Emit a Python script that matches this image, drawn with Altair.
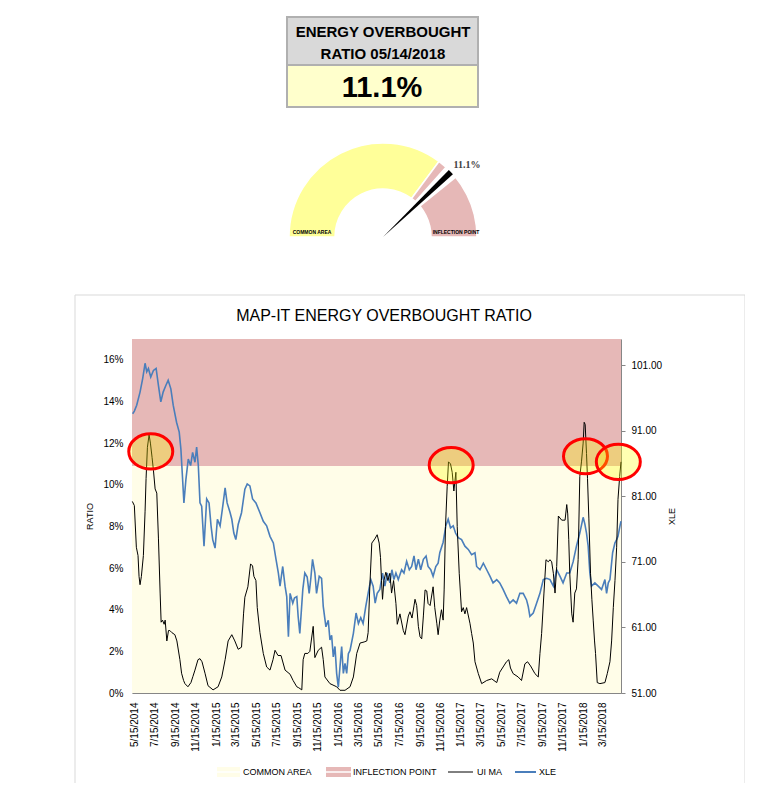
import math
import pandas as pd
import altair as alt

FONT = "Liberation Sans"

# ---------------- data ----------------
base_date = "2014-05-09"      # left edge of the date axis
end_offset_days = 1460        # right edge of the date axis

# UI MA (ratio, % ) : day offset from base_date, value in percent
ui_days = [1, 7, 13, 18, 21, 24, 28, 34, 39, 42, 46, 51, 55, 60, 64, 69, 74, 79, 84, 87,
           91, 96, 99, 104, 109, 113, 119, 128, 134, 143, 148, 154, 158, 167, 176, 182, 188, 197, 203, 209,
           218, 227, 242, 257, 268, 278, 287, 298, 307, 317, 327, 333, 337, 346, 354, 360, 364, 370, 374, 382,
           392, 402, 412, 421, 427, 436, 445, 457, 472, 481, 492, 498, 507, 511, 516, 525, 531, 541, 546, 556,
           566, 571, 576, 591, 611, 621, 636, 651, 661, 671, 681, 693, 701, 705, 710, 716, 725, 732, 738, 742,
           745, 748, 752, 758, 764, 770, 775, 781, 788, 792, 800, 810, 815, 825, 830, 836, 845, 850, 855, 860,
           865, 870, 875, 880, 884, 890, 899, 904, 910, 914, 919, 924, 929, 932, 936, 941, 945, 951, 956, 961,
           967, 971, 977, 984, 989, 994, 999, 1009, 1014, 1019, 1024, 1034, 1044, 1059, 1074, 1089, 1098, 1108, 1118, 1125,
           1130, 1138, 1153, 1163, 1173, 1181, 1190, 1203, 1213, 1218, 1223, 1230, 1236, 1243, 1248, 1253, 1258, 1263, 1268, 1273,
           1283, 1293, 1298, 1301, 1304, 1307, 1313, 1317, 1322, 1327, 1332, 1337, 1342, 1347, 1350, 1353, 1357, 1360, 1364, 1369,
           1373, 1377, 1381, 1384, 1389, 1397, 1412, 1419, 1427, 1432, 1437, 1442, 1447, 1451, 1456, 1460]
ui_pct = [9.2, 9.0, 7.0, 6.6, 5.6, 5.2, 5.6, 6.6, 8.7, 10.3, 11.8, 12.4, 12.0, 11.3, 10.7, 9.8, 9.6, 7.4, 4.8, 3.4,
          3.5, 3.3, 3.5, 2.5, 3.0, 3.0, 2.9, 2.8, 2.5, 1.6, 0.95, 0.6, 0.45, 0.3, 0.5, 0.8, 1.1, 1.6, 1.65, 1.5,
          0.95, 0.35, 0.15, 0.3, 0.77, 1.6, 2.5, 2.8, 2.5, 2.1, 2.2, 3.8, 4.6, 5.1, 6.2, 6.1, 5.6, 5.4, 4.1, 2.9,
          1.9, 1.25, 1.1, 1.6, 2.05, 1.8, 1.8, 1.1, 0.9, 0.6, 0.3, 0.25, 0.15, 1.6, 1.9, 1.9, 2.0, 3.2, 1.7, 2.05,
          2.2, 1.6, 0.77, 0.45, 0.3, 0.13, 0.13, 0.3, 0.77, 1.9, 2.4, 2.45, 2.5, 2.9, 5.1, 7.2, 7.4, 7.6, 7.2, 6.5,
          5.4, 4.5, 5.4, 5.8, 5.4, 5.75, 4.8, 5.4, 4.3, 3.3, 3.8, 3.0, 2.8, 3.7, 3.9, 3.6, 4.5, 4.2, 3.2, 2.7,
          2.6, 3.7, 4.95, 4.9, 4.3, 4.2, 5.1, 4.1, 3.35, 2.8, 3.5, 4.0, 3.5, 4.95, 8.0, 9.9, 11.1, 11.0, 10.6, 9.7,
          10.6, 8.0, 5.75, 3.9, 4.1, 3.8, 4.1, 3.35, 2.86, 2.4, 1.5, 0.93, 0.45, 0.6, 0.68, 0.5, 1.0, 1.25, 1.5, 1.6,
          1.2, 0.93, 0.77, 0.6, 1.4, 1.5, 1.3, 0.93, 0.77, 1.9, 2.86, 4.8, 6.4, 6.3, 6.4, 6.3, 5.75, 4.8, 6.07, 8.5,
          8.3, 8.3, 9.05, 8.6, 7.36, 5.75, 3.8, 3.4, 4.8, 5.0, 6.4, 10.4, 11.1, 12.0, 13.0, 12.9, 11.5, 10.3, 8.4, 5.75,
          4.5, 3.5, 2.5, 1.9, 0.5, 0.45, 0.5, 0.93, 1.5, 2.5, 4.1, 5.4, 7.0, 9.3, 10.4, 11.1]

# XLE price : day offset from base_date, price
xle_days = [2, 7, 14, 24, 32, 39, 44, 49, 56, 64, 72, 79, 86, 93, 101, 108, 116, 123, 133, 141,
            146, 150, 155, 161, 168, 175, 181, 188, 193, 198, 203, 208, 215, 223, 230, 236, 241, 248, 255, 263,
            271, 278, 284, 293, 298, 304, 310, 317, 327, 337, 344, 352, 360, 370, 382, 392, 402, 412, 422, 430,
            437, 442, 450, 457, 462, 467, 472, 480, 485, 492, 496, 501, 510, 516, 523, 529, 534, 539, 546, 551,
            559, 566, 571, 579, 586, 591, 596, 601, 606, 611, 616, 621, 626, 631, 636, 641, 646, 651, 661, 669,
            676, 683, 690, 698, 705, 713, 720, 726, 732, 740, 748, 755, 762, 770, 776, 782, 788, 795, 805, 812,
            820, 828, 835, 842, 848, 855, 862, 870, 878, 884, 892, 899, 907, 914, 919, 929, 937, 944, 951, 959,
            966, 974, 984, 994, 1004, 1014, 1024, 1029, 1039, 1049, 1059, 1069, 1078, 1089, 1098, 1108, 1118, 1128, 1138, 1148,
            1158, 1168, 1178, 1183, 1188, 1198, 1208, 1218, 1228, 1238, 1248, 1258, 1268, 1278, 1287, 1298, 1307, 1317, 1327, 1337,
            1347, 1352, 1357, 1362, 1367, 1372, 1382, 1392, 1402, 1412, 1417, 1422, 1427, 1435, 1442, 1447, 1451, 1457, 1460]
xle_price = [93.6, 94.0, 94.9, 96.9, 99.0, 101.3, 100.0, 100.5, 99.2, 100.2, 100.5, 97.9, 95.4, 96.9, 97.9, 98.7, 97.4, 94.9, 92.3, 90.8,
             88.2, 84.6, 80.0, 83.6, 86.7, 85.7, 87.7, 86.2, 88.5, 85.7, 80.0, 79.5, 73.4, 80.6, 80.0, 76.5, 74.4, 73.1, 77.5, 76.5,
             79.5, 82.3, 80.0, 78.5, 77.5, 75.4, 74.4, 76.7, 78.5, 82.1, 82.9, 82.6, 80.6, 80.0, 78.5, 77.2, 76.5, 74.9, 73.9, 71.4,
             69.3, 67.3, 70.3, 67.3, 65.7, 59.6, 66.2, 64.7, 65.5, 65.7, 62.7, 60.1, 66.8, 69.3, 68.7, 66.2, 68.5, 71.4, 69.3, 66.2,
             68.8, 68.5, 64.2, 61.1, 62.1, 59.1, 59.8, 56.5, 58.1, 54.0, 51.9, 55.0, 58.1, 54.0, 55.5, 54.0, 57.0, 57.5, 60.1, 63.2,
             61.6, 62.5, 61.6, 64.2, 66.2, 68.3, 67.3, 64.7, 66.2, 66.8, 69.3, 67.3, 69.3, 67.8, 69.8, 68.3, 69.3, 68.3, 69.8, 69.3,
             71.1, 69.8, 70.3, 71.9, 69.8, 71.4, 69.8, 71.4, 71.9, 70.3, 69.8, 68.8, 70.3, 70.8, 72.4, 74.0, 76.5, 77.5, 76.2, 76.5,
             75.4, 74.7, 74.4, 73.4, 72.9, 72.1, 72.4, 70.3, 69.8, 70.8, 69.8, 68.8, 67.8, 68.3, 67.8, 66.8, 65.7, 64.7, 65.2, 64.7,
             66.2, 66.2, 65.2, 64.2, 62.7, 63.2, 64.7, 66.2, 68.3, 68.5, 68.3, 67.3, 69.8, 68.8, 67.8, 69.3, 69.3, 71.0, 73.4, 75.4,
             77.8, 76.8, 75.4, 73.4, 69.3, 67.3, 67.8, 67.3, 66.8, 68.3, 66.2, 67.8, 68.3, 72.4, 73.9, 74.4, 74.9, 76.5, 77.2]

zone_names = ["COMMON AREA", "INFLECTION POINT"]
zone_low_pct = [0.0, 10.9]
zone_high_pct = [10.9, 17.0]
series_names = ["UI MA", "XLE"]

circle_days = [56, 953, 1354, 1452]
circle_pct = [11.6, 10.94, 11.37, 11.1]

tick_labels = ["5/15/2014", "7/15/2014", "9/15/2014", "11/15/2014", "1/15/2015", "3/15/2015",
               "5/15/2015", "7/15/2015", "9/15/2015", "11/15/2015", "1/15/2016", "3/15/2016",
               "5/15/2016", "7/15/2016", "9/15/2016", "11/15/2016", "1/15/2017", "3/15/2017",
               "5/15/2017", "7/15/2017", "9/15/2017", "11/15/2017", "1/15/2018", "3/15/2018"]
ratio_ticks_pct = [0, 2, 4, 6, 8, 10, 12, 14, 16]
xle_ticks = [51, 61, 71, 81, 91, 101]

header_line1 = "ENERGY OVERBOUGHT"
header_line2 = "RATIO 05/14/2018"
current_value = "11.1%"
chart_title = "MAP-IT ENERGY OVERBOUGHT RATIO"

gauge_shares = [70.3, 29.7]   # dial share (of the half circle) of each zone
gauge_needle = 75.7           # needle position on the dial (0-100)

# ---------------- styles ----------------
PINK = "#e6b8b7"
BAND_YELLOW = "#fffde8"
GAUGE_YELLOW = "#ffff99"
BLUE = "#4a7ebb"
AXIS_GRAY = "#868686"

W, H = 489, 354
# page origin of the plot area is (132, 339); all decorations are relative to it

base = pd.Timestamp(base_date)
end = base + pd.Timedelta(days=end_offset_days)


def dt(ts):
    return alt.DateTime(year=ts.year, month=ts.month, date=ts.day)


x_scale = alt.Scale(domain=[dt(base), dt(end)])
tick_dt = []
for s in tick_labels:
    m, d, y = s.split("/")
    tick_dt.append(alt.DateTime(year=int(y), month=int(m), date=int(d)))

x_axis = alt.Axis(values=tick_dt, format="%-m/%-d/%Y", labelAngle=270, labelAlign="right",
                  labelBaseline="middle", ticks=False, grid=False, domainColor=AXIS_GRAY,
                  labelPadding=9, labelFontSize=10, title=None, labelOverlap=False, labelFlush=False)
ratio_scale = alt.Scale(domain=[0, 0.17], nice=False, zero=True)
xle_scale = alt.Scale(domain=[51, 105], nice=False, zero=False)

ui_df = pd.DataFrame({"date": base + pd.to_timedelta(ui_days, unit="D"),
                      "ratio": [p / 100 for p in ui_pct], "series": series_names[0]})
xle_df = pd.DataFrame({"date": base + pd.to_timedelta(xle_days, unit="D"),
                       "price": xle_price, "series": series_names[1]})
band_df = pd.DataFrame({"zone": zone_names, "lo": [v / 100 for v in zone_low_pct],
                        "hi": [v / 100 for v in zone_high_pct], "start": [base, base], "end": [end, end]})
circ_df = pd.DataFrame({"date": base + pd.to_timedelta(circle_days, unit="D"),
                        "ratio": [p / 100 for p in circle_pct]})

bands = alt.Chart(band_df).mark_rect().encode(
    x=alt.X("start:T", scale=x_scale, axis=x_axis),
    x2="end:T",
    y=alt.Y("lo:Q", scale=ratio_scale,
            axis=alt.Axis(values=[v / 100 for v in ratio_ticks_pct], format=".0%", title="RATIO",
                          ticks=False, domain=False, grid=False, labelPadding=9, labelFontSize=10,
                          titleFontSize=9, titleFontWeight="normal", titlePadding=8)),
    y2="hi:Q",
    color=alt.Color("zone:N", scale=alt.Scale(domain=zone_names, range=[BAND_YELLOW, PINK]), legend=None),
)

blue = alt.Chart(xle_df).mark_line(color=BLUE, strokeWidth=1.6).encode(
    x=alt.X("date:T", scale=x_scale, axis=x_axis),
    y=alt.Y("price:Q", scale=xle_scale,
            axis=alt.Axis(orient="right", values=xle_ticks, format=".2f", title="XLE", grid=False,
                          ticks=True, tickSize=4, tickColor=AXIS_GRAY, domainColor=AXIS_GRAY,
                          labelPadding=6, labelFontSize=10, titleFontSize=9, titleFontWeight="normal",
                          titlePadding=6, titleAngle=270, titleBaseline="top")),
)

black = alt.Chart(ui_df).mark_line(color="black", strokeWidth=1).encode(
    x=alt.X("date:T", scale=x_scale, axis=x_axis),
    y=alt.Y("ratio:Q", scale=ratio_scale, axis=None),
)

ELLIPSE = "M -1 0 A 1 0.8 0 1 1 1 0 A 1 0.8 0 1 1 -1 0 Z"
circles = alt.Chart(circ_df).mark_point(
    shape=ELLIPSE, size=1936, filled=True, fill="#ffff00", fillOpacity=0.3,
    stroke="#ff0000", strokeWidth=3, strokeOpacity=1, opacity=1,
).encode(
    x=alt.X("date:T", scale=x_scale, axis=x_axis),
    y=alt.Y("ratio:Q", scale=ratio_scale, axis=None),
)


def one():
    return pd.DataFrame({"a": [0]})


def txt(s, x, y, size, weight="normal", color="#000000", font=FONT, align="center", baseline="middle"):
    return alt.Chart(pd.DataFrame({"t": [s]})).mark_text(
        font=font, fontSize=size, fontWeight=weight, color=color, align=align, baseline=baseline
    ).encode(text="t:N", x=alt.value(x), y=alt.value(y))


def box(x1, x2, y1, y2, fill="#ffffff", fill_opacity=1.0, stroke=None, sw=1.0):
    kw = dict(fill=fill, fillOpacity=fill_opacity)
    if stroke:
        kw.update(stroke=stroke, strokeWidth=sw)
    return alt.Chart(one()).mark_rect(**kw).encode(
        x=alt.value(x1), x2=alt.value(x2), y=alt.value(y1), y2=alt.value(y2))


def hline(x1, x2, y, color, width):
    return alt.Chart(one()).mark_rule(color=color, strokeWidth=width).encode(
        x=alt.value(x1), x2=alt.value(x2), y=alt.value(y))


# outer frame of the line chart
frame = box(-57, 613, -44, 446, fill="#ffffff", fill_opacity=0.0, stroke="#d9d9d9", sw=1)
title = txt(chart_title, 252, -23, 16)

# header box
head_top = box(155, 346, -322, -274, fill="#d9d9d9", stroke="#b0b0b0", sw=2)
head_bot = box(155, 346, -274, -232, fill="#ffffcc", stroke="#b0b0b0", sw=2)
head_t1 = txt(header_line1, 251, -307, 15, weight="bold")
head_t2 = txt(header_line2, 251, -285, 15, weight="bold")
head_v = txt(current_value, 250, -251, 29, weight="bold")

# gauge
GX, GY = 251, -102
theta_scale = alt.Scale(domain=[0, 100], range=[-math.pi / 2, math.pi / 2])
gauge_df = pd.DataFrame({"zone": zone_names, "share": gauge_shares, "ord": [0, 1]})
dial = alt.Chart(gauge_df).mark_arc(radius=94, radius2=48, stroke="white", strokeWidth=1.5).encode(
    theta=alt.Theta("share:Q", stack=True, scale=theta_scale),
    order=alt.Order("ord:Q"),
    fill=alt.Fill("zone:N", scale=alt.Scale(domain=zone_names, range=[GAUGE_YELLOW, PINK]), legend=None),
    x=alt.value(GX), y=alt.value(GY),
)
gap = alt.Chart(pd.DataFrame({"lo": [gauge_needle - 2.6], "hi": [gauge_needle + 2.6]})).mark_arc(
    radius=97, radius2=46, color="white").encode(
    theta=alt.Theta("lo:Q", scale=theta_scale), theta2="hi:Q", x=alt.value(GX), y=alt.value(GY))
needle = alt.Chart(pd.DataFrame({"lo": [gauge_needle - 1.0], "hi": [gauge_needle + 1.0]})).mark_arc(
    radius=94, radius2=0, color="black").encode(
    theta=alt.Theta("lo:Q", scale=theta_scale), theta2="hi:Q", x=alt.value(GX), y=alt.value(GY))
g_val = txt(current_value, 335, -174, 10, weight="bold", color="#404040", font="Liberation Serif")
g_l1 = txt(zone_names[0], 180, -107, 5, weight="bold")
g_l2 = txt(zone_names[1], 324, -107, 5, weight="bold")

# legend
LY = 433
leg = [
    box(85, 108, LY - 5, LY + 5, fill=BAND_YELLOW),
    hline(85, 108, LY, "#ffffff", 1.5),
    txt(zone_names[0], 111, LY, 9, align="left"),
    box(194, 219, LY - 5, LY + 5, fill=PINK),
    hline(194, 219, LY, "#ffffff", 1.5),
    txt(zone_names[1], 221, LY, 9, align="left"),
    hline(316, 341, LY, "#000000", 1),
    txt(series_names[0], 345, LY, 9, align="left"),
    hline(383, 404, LY, BLUE, 2),
    txt(series_names[1], 407, LY, 9, align="left"),
]

chart = alt.layer(
    frame, title, head_top, head_bot, head_t1, head_t2, head_v,
    dial, gap, needle, g_val, g_l1, g_l2,
    bands, blue, black, circles, *leg,
).resolve_scale(y="independent").properties(
    width=W, height=H,
    autosize=alt.AutoSizeParams(type="none"),
    padding={"left": 124, "top": 331, "right": 124, "bottom": 90},
).configure_view(stroke=None).configure_axis(
    labelFont=FONT, titleFont=FONT, labelColor="#000000", titleColor="#000000", grid=False
).configure(font=FONT)

chart.save("out.html", embed_options={"renderer": "svg", "actions": False})
